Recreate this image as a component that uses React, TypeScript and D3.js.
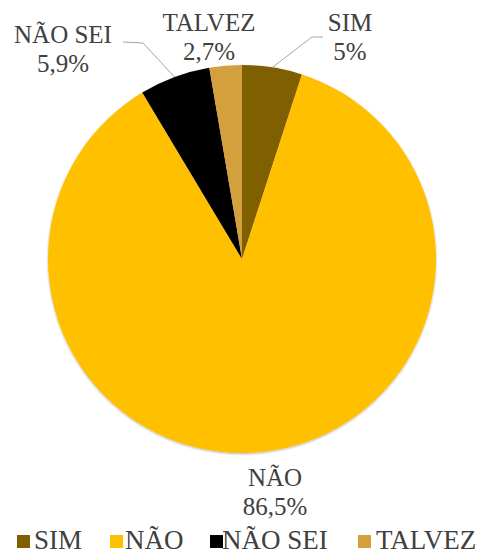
import React from "react";
import * as d3 from "d3";

const categories = ["SIM", "NÃO", "NÃO SEI", "TALVEZ"];
const values = [5, 86.5, 5.9, 2.7];
const valueLabels = ["5%", "86,5%", "5,9%", "2,7%"];
const colors = ["#7F5F00", "#FFC000", "#000000", "#D4A03C"];

const W = 479;
const H = 554;
const CX = 242;
const CY = 259;
const R = 194;

// label layout (center x, baseline y of first line)
const labelPos: Record<string, [number, number]> = {
  SIM: [350, 31],
  "NÃO": [275, 486],
  "NÃO SEI": [63, 43],
  TALVEZ: [209, 31],
};
// leader line start/knee for labels that have leader lines
const leaders: Record<string, [number, number][]> = {
  SIM: [[323, 37], [312, 37]],
  "NÃO SEI": [[123, 42], [143, 43]],
};

const legendSquareX = [17, 110, 210, 358];
const legendTextX = [34, 125, 222, 376];

const FONT = "Liberation Serif, Tinos, Times New Roman, serif";

export default function App() {
  const pie = d3.pie<number>().sort(null).value((d) => d);
  const arcs = pie(values);
  const arcGen = d3.arc<d3.PieArcDatum<number>>().innerRadius(0).outerRadius(R);
  return (
    <div style={{ position: "absolute", left: 0, top: 0, fontFamily: FONT }}>
      <svg width={W} height={H} style={{ display: "block", fontFamily: FONT }} fontFamily={FONT}>
        <rect width={W} height={H} fill="#ffffff" />
        <defs>
          <filter id="sh" x="-10%" y="-10%" width="120%" height="120%">
            <feDropShadow dx="0" dy="1" stdDeviation="1.2" floodColor="#000" floodOpacity="0.3" />
          </filter>
        </defs>
        <g transform={`translate(${CX},${CY})`} filter="url(#sh)">
          {arcs.map((a, i) => (
            <path key={categories[i]} d={arcGen(a) || ""} fill={colors[i]} />
          ))}
        </g>
        {arcs.map((a, i) => {
          const name = categories[i];
          const pts = leaders[name];
          if (!pts) return null;
          const mid = (a.startAngle + a.endAngle) / 2;
          const ex = CX + R * Math.sin(mid);
          const ey = CY - R * Math.cos(mid);
          const all = [...pts, [ex, ey]] as [number, number][];
          return (
            <path
              key={"l" + name}
              d={d3.line()(all) || ""}
              fill="none"
              stroke="#A6A6A6"
              strokeWidth={1}
            />
          );
        })}
        {categories.map((c, i) => {
          const [x, y] = labelPos[c];
          return (
            <g key={"t" + c}>
              <text x={x} y={y} textAnchor="middle" style={{ fontFamily: FONT, fontSize: "25px" }} fill="#404040">
                {c}
              </text>
              <text x={x} y={y + 29} textAnchor="middle" style={{ fontFamily: FONT, fontSize: "25px" }} fill="#404040">
                {valueLabels[i]}
              </text>
            </g>
          );
        })}
        {categories.map((c, i) => (
          <g key={"lg" + c}>
            <rect x={legendSquareX[i]} y={535} width={13} height={13} fill={colors[i]} />
            <text x={legendTextX[i]} y={549} style={{ fontFamily: FONT, fontSize: "27px" }} fill="#404040">
              {c}
            </text>
          </g>
        ))}
      </svg>
    </div>
  );
}
